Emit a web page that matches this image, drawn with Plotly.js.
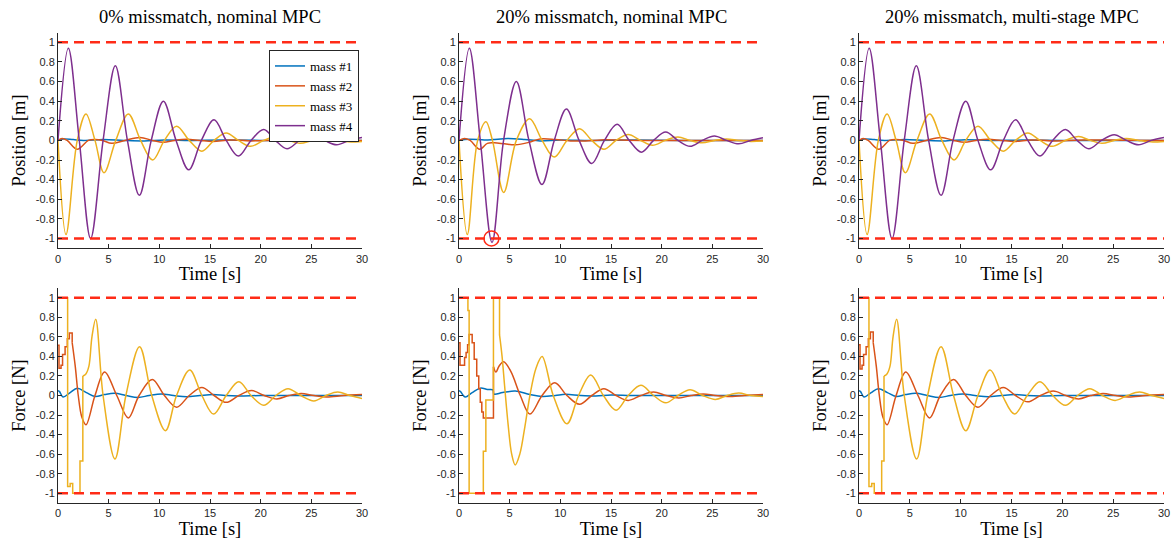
<!DOCTYPE html>
<html><head><meta charset="utf-8">
<script src="https://cdn.plot.ly/plotly-3.0.1.min.js"></script>
<style>html,body{margin:0;padding:0;background:#fff}#chart{width:1171px;height:541px}</style>
</head><body><div id="chart"></div>
<script>
// ---------- labels ----------
const panelTitles = ['0% missmatch, nominal MPC', '20% missmatch, nominal MPC', '20% missmatch, multi-stage MPC'];
const seriesNames = ['mass #1', 'mass #2', 'mass #3', 'mass #4'];
const xTickVals = [0, 5, 10, 15, 20, 25, 30];
const xTickText = ['0', '5', '10', '15', '20', '25', '30'];
const yTickVals = [-1, -0.8, -0.6, -0.4, -0.2, 0, 0.2, 0.4, 0.6, 0.8, 1];
const yTickText = ['-1', '-0.8', '-0.6', '-0.4', '-0.2', '0', '0.2', '0.4', '0.6', '0.8', '1'];
const limitT = [0, 30];
const upperLimit = [1, 1];
const lowerLimit = [-1, -1];
const violationT = [3.2];
const violationY = [-1.0];

// ---------- positions, 0% mismatch nominal ----------
const p0m1T = [0, 0.5, 1.5, 2.5, 4.5, 6.5, 8.5, 10.5, 13, 16, 20, 25, 30];
const p0m1Y = [0, 0.015, 0.008, 0, 0.01, 0, -0.005, 0.005, 0, 0.003, 0, 0, 0];
const p0m2T = [0, 0.4, 0.9, 1.9, 3.0, 3.65, 4.4, 5.3, 6.6, 8.1, 9.3, 10.4, 11.5, 12.7, 14.0, 15.3, 17.0, 19.0, 22, 26, 30];
const p0m2Y = [0, 0.02, 0, -0.09, 0, 0.01, 0, -0.03, 0, 0.03, 0, -0.02, 0, 0.012, 0, -0.01, 0.005, -0.005, 0.004, 0.002, 0];
const p0m3T = [0, 0.79, 1.9, 2.76, 3.65, 4.54, 5.7, 6.94, 8.15, 9.34, 10.5, 11.7, 12.95, 14.2, 15.4, 16.6, 17.8, 19.0, 20.3, 21.6, 22.75, 23.9, 25.1, 26.3, 27.5, 28.7, 30];
const p0m3Y = [0, -0.96, 0, 0.27, 0, -0.33, 0, 0.27, 0, -0.20, 0, 0.145, 0, -0.11, 0, 0.075, 0, -0.06, 0, 0.04, 0, -0.03, 0, 0.02, 0, -0.015, -0.01];
const p0m4T = [0, 1.02, 2.1, 3.22, 4.45, 5.66, 6.85, 8.03, 9.2, 10.4, 11.65, 12.9, 14.15, 15.4, 16.6, 17.8, 19.05, 20.3, 21.45, 22.6, 23.85, 25.1, 26.3, 27.5, 28.75, 30];
const p0m4Y = [0, 0.94, 0, -1.0, 0, 0.76, 0, -0.56, 0, 0.40, 0, -0.30, 0, 0.21, 0, -0.16, 0, 0.11, 0, -0.085, 0, 0.058, 0, -0.045, 0, 0.03];

// ---------- positions, 20% mismatch nominal ----------
const p20m1T = [0, 1, 2.5, 3.3, 4.8, 6.5, 8, 10, 13, 17, 22, 30];
const p20m1Y = [0, 0.012, 0.005, 0.008, 0.02, 0.01, -0.005, 0.005, 0, 0.003, 0, 0];
const p20m2T = [0, 0.55, 1.1, 2.04, 2.8, 3.5, 4.5, 5.56, 6.9, 8.0, 9.5, 11, 12.5, 14, 16, 18, 21, 25, 30];
const p20m2Y = [0, 0.02, 0, -0.09, -0.03, -0.025, -0.035, -0.045, -0.02, 0.015, 0.01, -0.005, -0.005, 0.005, 0.003, 0, 0, 0, 0];
const p20m3T = [0, 0.82, 1.84, 2.66, 3.3, 4.41, 5.66, 6.97, 8.2, 9.4, 10.65, 11.9, 13.1, 14.3, 15.5, 16.7, 17.9, 19.1, 20.35, 21.6, 22.8, 24.0, 25.2, 26.4, 27.6, 28.8, 30];
const p20m3Y = [0, -0.96, 0, 0.19, 0, -0.53, 0, 0.22, 0, -0.17, 0, 0.12, 0, -0.09, 0, 0.06, 0, -0.05, 0, 0.035, 0, -0.025, 0, 0.015, 0, -0.01, -0.005];
const p20m4T = [0, 1.02, 2.1, 3.26, 4.4, 5.66, 6.9, 8.19, 9.4, 10.6, 11.85, 13.1, 14.35, 15.6, 16.8, 18.0, 19.2, 20.4, 21.6, 22.8, 24.0, 25.2, 26.4, 27.6, 28.8, 30];
const p20m4Y = [0, 0.94, 0, -1.04, 0, 0.60, 0, -0.45, 0, 0.32, 0, -0.235, 0, 0.165, 0, -0.12, 0, 0.085, 0, -0.06, 0, 0.045, 0, -0.035, 0, 0.027];

// ---------- positions, 20% mismatch multi-stage ----------
const pmsm1T = [0, 0.5, 1.5, 2.5, 4.5, 6.5, 8.5, 10.5, 13, 16, 20, 25, 30];
const pmsm1Y = [0, 0.015, 0.008, 0, 0.01, 0, -0.005, 0.006, 0, 0.003, 0, 0, 0];
const pmsm2T = [0, 0.4, 0.9, 1.95, 3.0, 3.65, 4.4, 5.3, 6.6, 8.1, 9.3, 10.4, 11.5, 12.7, 14.0, 15.3, 17.0, 19.0, 22, 26, 30];
const pmsm2Y = [0, 0.02, 0, -0.09, 0, 0.01, 0, -0.03, 0, 0.03, 0, -0.02, 0, 0.012, 0, -0.01, 0.005, -0.005, 0.004, 0.002, 0];
const pmsm3T = [0, 0.8, 1.9, 2.76, 3.65, 4.56, 5.7, 6.95, 8.15, 9.35, 10.5, 11.7, 12.95, 14.2, 15.4, 16.6, 17.8, 19.0, 20.3, 21.6, 22.75, 23.9, 25.1, 26.3, 27.5, 28.7, 30];
const pmsm3Y = [0, -0.96, 0, 0.27, 0, -0.33, 0, 0.27, 0, -0.20, 0, 0.145, 0, -0.11, 0, 0.075, 0, -0.06, 0, 0.04, 0, -0.03, 0, 0.02, 0, -0.015, -0.01];
const pmsm4T = [0, 1.0, 2.1, 3.25, 4.45, 5.64, 6.85, 8.07, 9.25, 10.5, 11.7, 12.95, 14.2, 15.4, 16.6, 17.8, 19.05, 20.3, 21.45, 22.6, 23.85, 25.1, 26.3, 27.5, 28.75, 30];
const pmsm4Y = [0, 0.94, 0, -1.0, 0, 0.76, 0, -0.56, 0, 0.40, 0, -0.30, 0, 0.21, 0, -0.16, 0, 0.11, 0, -0.085, 0, 0.058, 0, -0.045, 0, 0.03];

// ---------- forces, 0% mismatch nominal ----------
const f0m1T = [0, 0.15, 0.5, 1.2, 1.9, 2.8, 3.65, 4.6, 5.6, 6.7, 7.9, 9.0, 10.2, 11.4, 12.7, 14.0, 15.3, 16.5, 17.8, 20, 23, 26, 30];
const f0m1Y = [0.05, 0.04, -0.015, 0.03, 0.073, 0.03, -0.01, 0.01, 0.022, 0.0, -0.02, 0, 0.015, 0, -0.012, 0, 0.01, 0, -0.005, 0, 0, 0, 0];
const f0m2StepT = [0, 0.1, 0.3, 0.45, 0.7, 0.92, 1.12, 1.4];
const f0m2StepY = [0.515, 0.28, 0.31, 0.42, 0.5, 0.58, 0.64, 0.54];
const f0m2T = [1.4, 1.7, 2.0, 2.35, 2.76, 3.65, 4.6, 5.8, 6.94, 8.0, 9.3, 10.5, 11.7, 12.95, 14.2, 15.4, 16.6, 17.85, 19.1, 20.35, 21.6, 22.8, 24.0, 25.25, 26.5, 28.2, 30];
const f0m2Y = [0.54, 0.3, 0.0, -0.22, -0.30, 0, 0.24, 0, -0.23, 0, 0.165, 0, -0.12, 0, 0.083, 0, -0.07, 0, 0.05, 0, -0.035, 0, 0.02, 0, -0.015, 0, 0.01];
const f0m3StepT = [0, 0.95, 1.2, 1.45, 2.17, 2.45];
const f0m3StepY = [1, -0.93, -0.90, -1.0, -0.67, 0.2];
const f0m3T = [2.45, 2.75, 3.05, 3.35, 3.72, 4.45, 5.62, 6.7, 8.05, 9.25, 10.6, 11.7, 13.0, 14.2, 15.35, 16.6, 17.85, 19.05, 20.3, 21.5, 22.7, 23.95, 25.25, 26.45, 27.6, 28.8, 30];
const f0m3Y = [0.2, 0.22, 0.3, 0.6, 0.78, 0, -0.65, 0, 0.50, 0, -0.36, 0, 0.26, 0, -0.19, 0, 0.14, 0, -0.10, 0, 0.07, 0, -0.055, 0, 0.035, 0, -0.03];

// ---------- forces, 20% mismatch nominal ----------
const f20m1T = [0, 0.15, 0.6, 1.3, 2.1, 2.8, 3.35, 3.45, 4.3, 5.55, 7.0, 8.2, 9.5, 10.5, 12, 13.5, 15, 17, 20, 25, 30];
const f20m1Y = [0.05, 0.04, -0.015, 0.03, 0.075, 0.062, 0.058, 0.015, 0.03, 0.045, 0.01, -0.01, 0, 0.012, 0, -0.005, 0.005, 0, 0, 0, 0];
const f20m2StepT = [0, 0.1, 0.55, 0.7, 0.85, 1.0, 1.3, 1.5, 1.75, 1.95, 2.1, 2.25, 2.4, 3.4];
const f20m2StepY = [0.54, 0.31, 0.39, 0.44, 0.52, 0.625, 0.54, 0.37, 0.2, 0.07, -0.07, -0.17, -0.23, 0.295];
const f20m2T = [3.4, 3.65, 3.95, 4.4, 5.1, 6.05, 7.0, 8.2, 9.45, 10.65, 11.9, 13.1, 14.3, 15.5, 16.7, 17.95, 19.2, 20.45, 21.7, 22.9, 24.1, 25.3, 26.5, 28.2, 30];
const f20m2Y = [0.295, 0.24, 0.3, 0.345, 0.25, 0, -0.19, 0, 0.13, 0, -0.09, 0, 0.07, 0, -0.05, 0, 0.035, 0, -0.025, 0, 0.015, 0, -0.01, 0, 0.01];
const f20m3StepT = [0, 0.88, 1.0, 2.4, 2.65, 3.4, 4.0];
const f20m3StepY = [1, 0.87, -1, -0.57, -0.045, 1, 0.62];
const f20m3T = [4.0, 4.25, 4.5, 4.85, 5.2, 5.55, 6.0, 6.5, 7.0, 7.6, 8.2, 9.3, 10.65, 11.8, 13.0, 14.25, 15.5, 16.7, 17.95, 19.2, 20.4, 21.6, 22.8, 24.05, 25.3, 26.45, 27.6, 28.8, 30];
const f20m3Y = [0.62, 0.4, 0.1, -0.3, -0.6, -0.71, -0.6, -0.32, 0.0, 0.28, 0.4, 0, -0.29, 0, 0.21, 0, -0.15, 0, 0.105, 0, -0.075, 0, 0.06, 0, -0.04, 0, 0.025, 0, -0.01];

// ---------- forces, 20% mismatch multi-stage ----------
const fmsm1T = [0, 0.15, 0.5, 1.2, 1.9, 2.8, 3.65, 4.6, 5.6, 6.7, 7.9, 9.0, 10.2, 11.4, 12.7, 14.0, 15.3, 16.5, 17.8, 20, 23, 26, 30];
const fmsm1Y = [0.05, 0.04, -0.015, 0.03, 0.07, 0.03, -0.01, 0.01, 0.022, 0.0, -0.02, 0, 0.015, 0, -0.012, 0, 0.01, 0, -0.005, 0, 0, 0, 0];
const fmsm2StepT = [0, 0.1, 0.3, 0.45, 0.7, 0.92, 1.12, 1.4];
const fmsm2StepY = [0.52, 0.27, 0.31, 0.42, 0.5, 0.58, 0.65, 0.54];
const fmsm2T = [1.4, 1.7, 2.0, 2.35, 2.76, 3.65, 4.6, 5.8, 6.94, 8.0, 9.3, 10.5, 11.7, 12.95, 14.2, 15.4, 16.6, 17.85, 19.1, 20.35, 21.6, 22.8, 24.0, 25.25, 26.5, 28.2, 30];
const fmsm2Y = [0.54, 0.3, 0.0, -0.22, -0.30, 0, 0.24, 0, -0.23, 0, 0.165, 0, -0.12, 0, 0.083, 0, -0.065, 0, 0.045, 0, -0.035, 0, 0.02, 0, -0.015, 0, 0.01];
const fmsm3StepT = [0, 0.98, 1.25, 1.5, 2.23, 2.46];
const fmsm3StepY = [1, -0.93, -0.90, -1.0, -0.67, 0.2];
const fmsm3T = [2.46, 2.75, 3.05, 3.35, 3.7, 4.45, 5.67, 6.75, 8.07, 9.3, 10.5, 11.7, 12.9, 14.1, 15.3, 16.55, 17.8, 19.05, 20.3, 21.5, 22.7, 23.95, 25.2, 26.4, 27.6, 28.8, 30];
const fmsm3Y = [0.2, 0.22, 0.3, 0.6, 0.78, 0, -0.65, 0, 0.50, 0, -0.36, 0, 0.26, 0, -0.19, 0, 0.14, 0, -0.10, 0, 0.07, 0, -0.05, 0, 0.035, 0, -0.03];

// ---------- style ----------
const seriesColors = ['#0072BD', '#D95319', '#EDB120', '#7E2F8E'];
const limitColor = '#FF2B17';
const axisColor = '#262626';
const serif = '"Liberation Serif", "Times New Roman", serif';
const sans = '"Liberation Sans", Arial, sans-serif';

const xDomains = [[58 / 1171, 362 / 1171], [459 / 1171, 763 / 1171], [859 / 1171, 1164 / 1171]];
const yDomains = [[1 - 248.3 / 541, 1 - 32.5 / 541], [1 - 503 / 541, 1 - 288 / 541]];

const traces = [];
function addLine(x, y, color, k, shape, name, legend) {
  traces.push({
    type: 'scatter', mode: 'lines', x: x, y: y,
    xaxis: 'x' + (k === 1 ? '' : k), yaxis: 'y' + (k === 1 ? '' : k),
    line: { color: color, width: 1.5, shape: shape, smoothing: shape === 'spline' ? 1 : undefined },
    name: name || '', showlegend: !!legend, hoverinfo: 'skip'
  });
}

const posSets = [
  [[p0m1T, p0m1Y], [p0m2T, p0m2Y], [p0m3T, p0m3Y], [p0m4T, p0m4Y]],
  [[p20m1T, p20m1Y], [p20m2T, p20m2Y], [p20m3T, p20m3Y], [p20m4T, p20m4Y]],
  [[pmsm1T, pmsm1Y], [pmsm2T, pmsm2Y], [pmsm3T, pmsm3Y], [pmsm4T, pmsm4Y]]
];
posSets.forEach((set, i) => {
  set.forEach((s, j) => addLine(s[0], s[1], seriesColors[j], i + 1, 'spline', seriesNames[j], i === 0));
});

const forceSets = [
  { m1: [f0m1T, f0m1Y], m2s: [f0m2StepT, f0m2StepY], m2: [f0m2T, f0m2Y], m3s: [f0m3StepT, f0m3StepY], m3: [f0m3T, f0m3Y] },
  { m1: [f20m1T, f20m1Y], m2s: [f20m2StepT, f20m2StepY], m2: [f20m2T, f20m2Y], m3s: [f20m3StepT, f20m3StepY], m3: [f20m3T, f20m3Y] },
  { m1: [fmsm1T, fmsm1Y], m2s: [fmsm2StepT, fmsm2StepY], m2: [fmsm2T, fmsm2Y], m3s: [fmsm3StepT, fmsm3StepY], m3: [fmsm3T, fmsm3Y] }
];
forceSets.forEach((f, i) => {
  const k = i + 4;
  addLine(f.m1[0], f.m1[1], seriesColors[0], k, 'spline');
  addLine(f.m2s[0], f.m2s[1], seriesColors[1], k, 'hv');
  addLine(f.m2[0], f.m2[1], seriesColors[1], k, 'spline');
  addLine(f.m3s[0], f.m3s[1], seriesColors[2], k, 'hv');
  addLine(f.m3[0], f.m3[1], seriesColors[2], k, 'spline');
});

// constraint lines
for (let k = 1; k <= 6; k++) {
  [upperLimit, lowerLimit].forEach(lim => {
    traces.push({
      type: 'scatter', mode: 'lines', x: limitT, y: lim,
      xaxis: 'x' + (k === 1 ? '' : k), yaxis: 'y' + (k === 1 ? '' : k),
      line: { color: limitColor, width: 2.5, dash: '10px,6px' },
      showlegend: false, hoverinfo: 'skip'
    });
  });
}
// violation marker
traces.push({
  type: 'scatter', mode: 'markers', x: violationT, y: violationY, xaxis: 'x2', yaxis: 'y2',
  marker: { symbol: 'circle-open', size: 15, color: limitColor, line: { width: 1.5, color: limitColor } },
  showlegend: false, hoverinfo: 'skip'
});

const layout = {
  width: 1171, height: 541,
  margin: { l: 0, r: 0, t: 0, b: 0 },
  paper_bgcolor: '#ffffff', plot_bgcolor: '#ffffff',
  showlegend: true,
  legend: {
    x: 359 / 1171, xanchor: 'right', y: 1 - 50 / 541, yanchor: 'top',
    bgcolor: '#ffffff', bordercolor: axisColor, borderwidth: 1,
    font: { family: serif, size: 13, color: '#000' },
    tracegroupgap: 0
  },
  annotations: panelTitles.map((t, i) => ({
    text: t, xref: 'paper', yref: 'paper',
    x: (xDomains[i][0] + xDomains[i][1]) / 2, y: 1 - 17 / 541,
    xanchor: 'center', yanchor: 'middle', showarrow: false,
    font: { family: serif, size: 18.5, color: '#000' }
  }))
};

for (let k = 1; k <= 6; k++) {
  const col = (k - 1) % 3, row = k <= 3 ? 0 : 1;
  const sfx = k === 1 ? '' : k;
  layout['xaxis' + sfx] = {
    domain: xDomains[col], anchor: 'y' + sfx, range: [0, 30],
    tickvals: xTickVals, ticktext: xTickText,
    ticks: 'inside', ticklen: 4, tickcolor: axisColor, tickwidth: 1,
    showline: true, linecolor: axisColor, linewidth: 1, mirror: false,
    showgrid: false, zeroline: false,
    tickfont: { family: sans, size: 11, color: axisColor },
    title: { text: 'Time [s]', font: { family: serif, size: 18.5, color: '#000' }, standoff: 3 }
  };
  layout['yaxis' + sfx] = {
    domain: yDomains[row], anchor: 'x' + sfx, range: [-1.1, 1.1],
    tickvals: yTickVals, ticktext: yTickText,
    ticks: 'inside', ticklen: 4, tickcolor: axisColor, tickwidth: 1,
    showline: true, linecolor: axisColor, linewidth: 1, mirror: false,
    showgrid: false, zeroline: false,
    tickfont: { family: sans, size: 11, color: axisColor },
    title: { text: row === 0 ? 'Position [m]' : 'Force [N]', font: { family: serif, size: 18.5, color: '#000' }, standoff: 5 }
  };
}

Plotly.newPlot('chart', traces, layout, { displayModeBar: false, staticPlot: true });
</script></body></html>
